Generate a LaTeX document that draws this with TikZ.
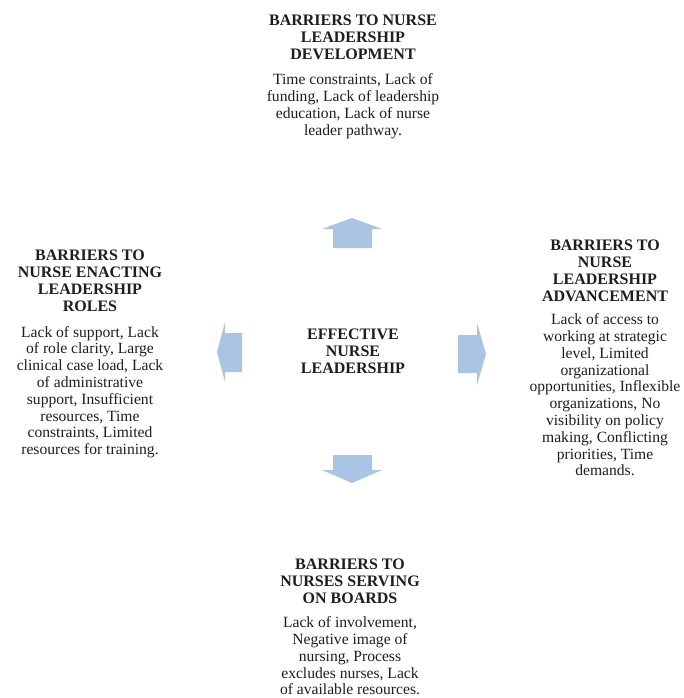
\documentclass[tikz,border=0pt]{standalone}
\usepackage{fontspec}
\setmainfont{Liberation Serif}
\definecolor{arrowblue}{RGB}{170,196,228}
\definecolor{txt}{RGB}{30,30,30}
\begin{document}
\begin{tikzpicture}[x=1pt,y=-1pt,
  title/.style={align=center,inner sep=0pt,text=txt,font=\fontsize{16}{17}\selectfont\bfseries},
  body/.style={align=center,inner sep=0pt,text=txt,font=\fontsize{15.6}{16.8}\selectfont},
  blockarrow/.style={fill=arrowblue,draw=none}]
\useasboundingbox (0,0) rectangle (683,698);
\fill[white] (0,0) rectangle (683,698);

% centre
\node[title] (centre) at (353,351) {EFFECTIVE\\NURSE\\LEADERSHIP};

% top
\node[title] (topT) at (353,37) {BARRIERS TO NURSE\\LEADERSHIP\\DEVELOPMENT};
\node[body] (topB) at (353,106) {Time constraints, Lack of\\funding, Lack of leadership\\education, Lack of nurse\\leader pathway.};

% left
\node[title] (leftT) at (90,281) {BARRIERS TO\\NURSE ENACTING\\LEADERSHIP\\ROLES};
\node[body] (leftB) at (90,392) {Lack of support, Lack\\of role clarity, Large\\clinical case load, Lack\\of administrative\\support, Insufficient\\resources, Time\\constraints, Limited\\resources for training.};

% right
\node[title] (rightT) at (605,271) {BARRIERS TO\\NURSE\\LEADERSHIP\\ADVANCEMENT};
\node[body] (rightB) at (605,395) {Lack of access to\\working at strategic\\level, Limited\\organizational\\opportunities, Inflexible\\organizations, No\\visibility on policy\\making, Conflicting\\priorities, Time\\demands.};

% bottom
\node[title] (botT) at (350,581) {BARRIERS TO\\NURSES SERVING\\ON BOARDS};
\node[body] (botB) at (350,656) {Lack of involvement,\\Negative image of\\nursing, Process\\excludes nurses, Lack\\of available resources.};

% block arrows
\fill[blockarrow] (333,248) -- (333,229) -- (322,229) -- (352,218) -- (382,229) -- (372,229) -- (372,248) -- cycle;
\fill[blockarrow] (333,455) -- (333,470) -- (322,470) -- (352,483) -- (382,470) -- (372,470) -- (372,455) -- cycle;
\fill[blockarrow] (242,333) -- (225,333) -- (225,322) -- (217,352) -- (225,382) -- (225,372) -- (242,372) -- cycle;
\fill[blockarrow] (458,335) -- (477,335) -- (477,323) -- (486,354) -- (477,385) -- (477,373) -- (458,373) -- cycle;
\end{tikzpicture}
\end{document}
